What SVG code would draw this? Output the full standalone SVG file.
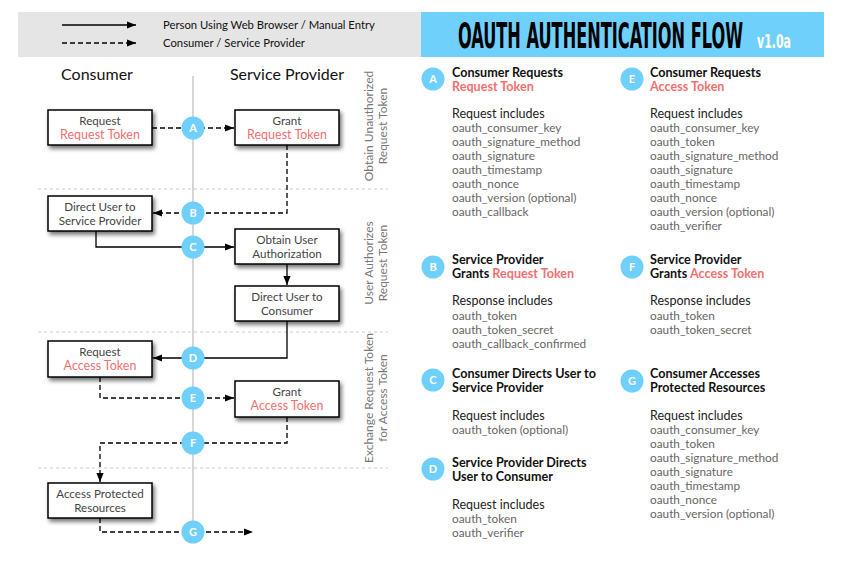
<svg xmlns="http://www.w3.org/2000/svg" width="859" height="574" viewBox="0 0 859 574">
<defs>
<marker id="arr" viewBox="0 0 10 10" refX="10" refY="5" markerWidth="9" markerHeight="9" markerUnits="userSpaceOnUse" orient="auto"><path d="M0,1 L10,5 L0,9 z" fill="#000"/></marker>
<filter id="sh" x="-20%" y="-20%" width="150%" height="170%"><feDropShadow dx="2" dy="3" stdDeviation="2" flood-color="#000" flood-opacity="0.55"/></filter>
<style>
text{font-family:Lato,"Open Sans","Liberation Sans",sans-serif}
.box{fill:#fff;stroke:#000;stroke-width:1.5;filter:url(#sh)}
.bt{font-size:11.6px;fill:#444;text-anchor:middle}
.con{fill:none;stroke:#000;stroke-width:1.3}
.dash{stroke-dasharray:5 3}
.arr{marker-end:url(#arr)}
.dot{fill:#6fd1fb}
.lt{fill:#fff;font-weight:bold;font-size:11px;text-anchor:middle}
.sep{stroke:#ccc;stroke-width:1;stroke-dasharray:3 3}
.side{font-size:12px;fill:#777;text-anchor:middle}
.hd{font-size:12.6px;font-weight:bold;fill:#111}
.sub{font-size:12.5px;fill:#222}
.it{font-size:11.8px;fill:#666}
.leg{font-size:11.3px;fill:#111}
.red{fill:#f36f6f}
.bt .red{font-size:12.5px}
.ttl{font-family:'DejaVu Sans Condensed','Liberation Sans Narrow','DejaVu Sans',sans-serif;font-weight:bold}
</style>
</defs>
<g id="legend">
<rect x="18" y="12" width="403" height="45" fill="#e5e5e5"/>
<line x1="62" y1="25" x2="136" y2="25" class="con arr"/>
<line x1="62" y1="43" x2="136" y2="43" class="con dash arr"/>
<text x="163" y="29" class="leg">Person Using Web Browser / Manual Entry</text>
<text x="163" y="47" class="leg">Consumer / Service Provider</text>
</g>
<g id="title">
<rect x="421" y="12" width="403" height="45" fill="#6fd1fb"/>
<text transform="translate(458,48) scale(1,2)" font-size="18" textLength="285" lengthAdjust="spacingAndGlyphs" fill="#000" class="ttl">OAUTH AUTHENTICATION FLOW</text>
<text transform="translate(757,48) scale(1,1.55)" font-size="12.5" textLength="34" lengthAdjust="spacingAndGlyphs" fill="#fff" class="ttl">v1.0a</text>
</g>
<g id="headers">
<text x="97" y="80" font-size="16" text-anchor="middle" fill="#111">Consumer</text>
<text x="287" y="80" font-size="16" text-anchor="middle" fill="#111">Service Provider</text>
</g>
<g id="lanes">
<line x1="193" y1="76" x2="193" y2="532" stroke="#c8c8c8" stroke-width="1.5"/>
<line x1="38" y1="189" x2="388" y2="189" class="sep"/>
<line x1="38" y1="332" x2="388" y2="332" class="sep"/>
<line x1="38" y1="468" x2="388" y2="468" class="sep"/>
<text transform="translate(373,126) rotate(-90)" class="side"><tspan x="0" y="0">Obtain Unauthorized</tspan><tspan x="0" y="13.5">Request Token</tspan></text>
<text transform="translate(373,263) rotate(-90)" class="side"><tspan x="0" y="0">User Authorizes</tspan><tspan x="0" y="13.5">Request Token</tspan></text>
<text transform="translate(373,398) rotate(-90)" class="side"><tspan x="0" y="0">Exchange Request Token</tspan><tspan x="0" y="13.5">for Access Token</tspan></text>
</g>
<g id="connectors">
<path d="M152,128 H234" class="con dash arr"/>
<path d="M287,145 V213 H153" class="con dash arr"/>
<path d="M96,231 V247 H234" class="con arr"/>
<path d="M287,264 V285" class="con arr"/>
<path d="M287,321 V358 H153" class="con arr"/>
<path d="M100,377 V398 H234" class="con dash arr"/>
<path d="M287,417 V443 H100 V482" class="con dash arr"/>
<path d="M100,518 V532 H253" class="con dash arr"/>
</g>
<g id="n-req-rt"><rect x="48" y="110" width="104" height="35" class="box"/><text class="bt"><tspan x="100" y="124.5">Request</tspan><tspan x="100" y="139" class="red">Request Token</tspan></text></g>
<g id="n-grant-rt"><rect x="235" y="110" width="104" height="35" class="box"/><text class="bt"><tspan x="287" y="124.5">Grant</tspan><tspan x="287" y="139" class="red">Request Token</tspan></text></g>
<g id="n-direct-sp"><rect x="48" y="196" width="104" height="35" class="box"/><text class="bt"><tspan x="100" y="211">Direct User to</tspan><tspan x="100" y="225">Service Provider</tspan></text></g>
<g id="n-obtain"><rect x="235" y="229" width="104" height="35" class="box"/><text class="bt"><tspan x="287" y="244">Obtain User</tspan><tspan x="287" y="258">Authorization</tspan></text></g>
<g id="n-direct-c"><rect x="235" y="286" width="104" height="35" class="box"/><text class="bt"><tspan x="287" y="301">Direct User to</tspan><tspan x="287" y="315">Consumer</tspan></text></g>
<g id="n-req-at"><rect x="48" y="341" width="104" height="36" class="box"/><text class="bt"><tspan x="100" y="355.5">Request</tspan><tspan x="100" y="370" class="red">Access Token</tspan></text></g>
<g id="n-grant-at"><rect x="235" y="381" width="104" height="36" class="box"/><text class="bt"><tspan x="287" y="395.5">Grant</tspan><tspan x="287" y="410" class="red">Access Token</tspan></text></g>
<g id="n-access"><rect x="48" y="483" width="104" height="35" class="box"/><text class="bt"><tspan x="100" y="498">Access Protected</tspan><tspan x="100" y="512">Resources</tspan></text></g>
<g id="step-A"><circle cx="193" cy="128" r="11.5" class="dot"/><text x="193" y="132" class="lt">A</text></g>
<g id="step-B"><circle cx="193" cy="213" r="11.5" class="dot"/><text x="193" y="217" class="lt">B</text></g>
<g id="step-C"><circle cx="193" cy="247" r="11.5" class="dot"/><text x="193" y="251" class="lt">C</text></g>
<g id="step-D"><circle cx="193" cy="358" r="11.5" class="dot"/><text x="193" y="362" class="lt">D</text></g>
<g id="step-E"><circle cx="193" cy="398" r="11.5" class="dot"/><text x="193" y="402" class="lt">E</text></g>
<g id="step-F"><circle cx="193" cy="443" r="11.5" class="dot"/><text x="193" y="447" class="lt">F</text></g>
<g id="step-G"><circle cx="193" cy="532" r="11.5" class="dot"/><text x="193" y="536" class="lt">G</text></g>
<g id="info-A"><circle cx="433" cy="79" r="11.5" class="dot"/><text x="433" y="83" class="lt">A</text>
<text x="452" y="77" class="hd">Consumer Requests</text><text x="452" y="91" class="hd"><tspan class="red">Request Token</tspan></text>
<text x="452" y="118" class="sub">Request includes</text>
<text class="it"><tspan x="452" y="132">oauth_consumer_key</tspan><tspan x="452" y="146">oauth_signature_method</tspan><tspan x="452" y="160">oauth_signature</tspan><tspan x="452" y="174">oauth_timestamp</tspan><tspan x="452" y="188">oauth_nonce</tspan><tspan x="452" y="202">oauth_version (optional)</tspan><tspan x="452" y="216">oauth_callback</tspan></text></g>
<g id="info-B"><circle cx="433" cy="267" r="11.5" class="dot"/><text x="433" y="271" class="lt">B</text>
<text x="452" y="264" class="hd">Service Provider</text><text x="452" y="278" class="hd">Grants <tspan class="red">Request Token</tspan></text>
<text x="452" y="305" class="sub">Response includes</text>
<text class="it"><tspan x="452" y="320">oauth_token</tspan><tspan x="452" y="334">oauth_token_secret</tspan><tspan x="452" y="348">oauth_callback_confirmed</tspan></text></g>
<g id="info-C"><circle cx="433" cy="380" r="11.5" class="dot"/><text x="433" y="384" class="lt">C</text>
<text x="452" y="378" class="hd">Consumer Directs User to</text><text x="452" y="392" class="hd">Service Provider</text>
<text x="452" y="420" class="sub">Request includes</text>
<text class="it"><tspan x="452" y="434">oauth_token (optional)</tspan></text></g>
<g id="info-D"><circle cx="433" cy="469" r="11.5" class="dot"/><text x="433" y="473" class="lt">D</text>
<text x="452" y="467" class="hd">Service Provider Directs</text><text x="452" y="481" class="hd">User to Consumer</text>
<text x="452" y="509" class="sub">Request includes</text>
<text class="it"><tspan x="452" y="523">oauth_token</tspan><tspan x="452" y="537">oauth_verifier</tspan></text></g>
<g id="info-E"><circle cx="632" cy="79" r="11.5" class="dot"/><text x="632" y="83" class="lt">E</text>
<text x="650" y="77" class="hd">Consumer Requests</text><text x="650" y="91" class="hd"><tspan class="red">Access Token</tspan></text>
<text x="650" y="118" class="sub">Request includes</text>
<text class="it"><tspan x="650" y="132">oauth_consumer_key</tspan><tspan x="650" y="146">oauth_token</tspan><tspan x="650" y="160">oauth_signature_method</tspan><tspan x="650" y="174">oauth_signature</tspan><tspan x="650" y="188">oauth_timestamp</tspan><tspan x="650" y="202">oauth_nonce</tspan><tspan x="650" y="216">oauth_version (optional)</tspan><tspan x="650" y="230">oauth_verifier</tspan></text></g>
<g id="info-F"><circle cx="632" cy="267" r="11.5" class="dot"/><text x="632" y="271" class="lt">F</text>
<text x="650" y="264" class="hd">Service Provider</text><text x="650" y="278" class="hd">Grants <tspan class="red">Access Token</tspan></text>
<text x="650" y="305" class="sub">Response includes</text>
<text class="it"><tspan x="650" y="320">oauth_token</tspan><tspan x="650" y="334">oauth_token_secret</tspan></text></g>
<g id="info-G"><circle cx="632" cy="381" r="11.5" class="dot"/><text x="632" y="385" class="lt">G</text>
<text x="650" y="378" class="hd">Consumer Accesses</text><text x="650" y="392" class="hd">Protected Resources</text>
<text x="650" y="420" class="sub">Request includes</text>
<text class="it"><tspan x="650" y="434">oauth_consumer_key</tspan><tspan x="650" y="448">oauth_token</tspan><tspan x="650" y="462">oauth_signature_method</tspan><tspan x="650" y="476">oauth_signature</tspan><tspan x="650" y="490">oauth_timestamp</tspan><tspan x="650" y="504">oauth_nonce</tspan><tspan x="650" y="518">oauth_version (optional)</tspan></text></g>
</svg>
